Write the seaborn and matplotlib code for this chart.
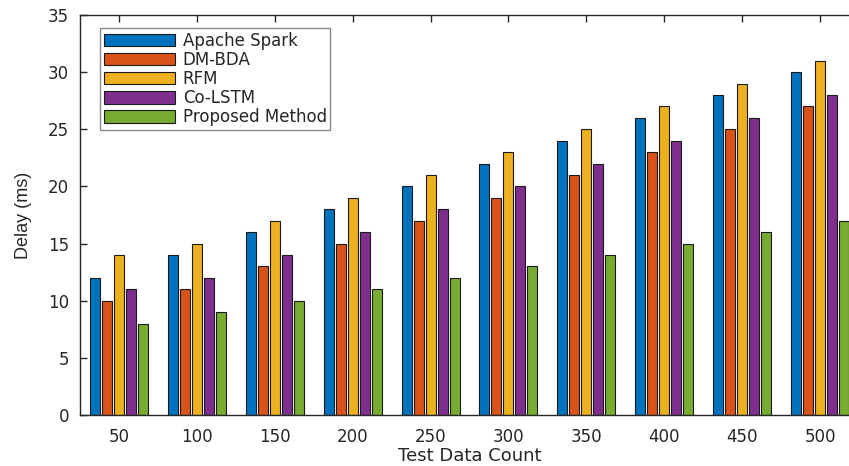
import numpy as np
import pandas as pd
import matplotlib
matplotlib.use("Agg")
import matplotlib.pyplot as plt
import seaborn as sns

categories = ["50", "100", "150", "200", "250", "300", "350", "400", "450", "500"]
series_names = ["Apache Spark", "DM-BDA", "RFM", "Co-LSTM", "Proposed Method"]
apache_spark = [12, 14, 16, 18, 20, 22, 24, 26, 28, 30]
dm_bda = [10, 11, 13, 15, 17, 19, 21, 23, 25, 27]
rfm = [14, 15, 17, 19, 21, 23, 25, 27, 29, 31]
co_lstm = [11, 12, 14, 16, 18, 20, 22, 24, 26, 28]
proposed = [8, 9, 10, 11, 12, 13, 14, 15, 16, 17]
yticks = [0, 5, 10, 15, 20, 25, 30, 35]

colors = ["#0072BD", "#D95319", "#EDB120", "#7E2F8E", "#77AC30"]

rows = []
for name, vals in zip(series_names, [apache_spark, dm_bda, rfm, co_lstm, proposed]):
    for c, v in zip(categories, vals):
        rows.append({"Count": c, "Delay": v, "Method": name})
df = pd.DataFrame(rows)

sns.set_theme(style="white")
plt.rcParams['font.family'] = ['DejaVu Sans']

fig = plt.figure(figsize=(8.49, 4.66), dpi=100)
W, H = 849, 466
ax = fig.add_axes([80 / W, (H - 415) / H, (859 - 80) / W, 400 / H])

sns.barplot(data=df, x="Count", y="Delay", hue="Method", order=categories,
            hue_order=series_names, palette=colors, width=0.77, gap=0.17,
            edgecolor="#1a1a1a", linewidth=0.8, ax=ax, errorbar=None,
            saturation=1)

ax.set_xlim(-0.5, 9.5)
ax.set_ylim(0, 35)
ax.set_yticks(yticks)
ax.set_yticklabels([str(t) for t in yticks])
ax.tick_params(axis='both', direction='in', length=5, width=1, colors="#262626",
               labelsize=12, top=True, bottom=True, left=True, right=False)
ax.tick_params(axis='y', pad=8)
ax.tick_params(axis='x', pad=9)
for s in ["left", "bottom", "top", "right"]:
    ax.spines[s].set_color("#262626")
    ax.spines[s].set_linewidth(1.0)
ax.set_xlabel("Test Data Count", fontsize=13, color="#262626", labelpad=1)
ax.set_ylabel("Delay (ms)", fontsize=13, color="#262626", labelpad=11,
              family=['Liberation Sans', 'DejaVu Sans'])

leg = ax.legend(loc="upper left", bbox_to_anchor=(20 / 779, 387 / 400),
                borderaxespad=0, fontsize=12, handlelength=4.26, handleheight=0.78,
                labelspacing=0.07, handletextpad=0.48, borderpad=0.22,
                fancybox=False, framealpha=1, edgecolor="#8a8a8a")
leg.get_frame().set_linewidth(1.0)
for t in leg.get_texts():
    t.set_color("#262626")

fig.savefig("out.png", dpi=100)
